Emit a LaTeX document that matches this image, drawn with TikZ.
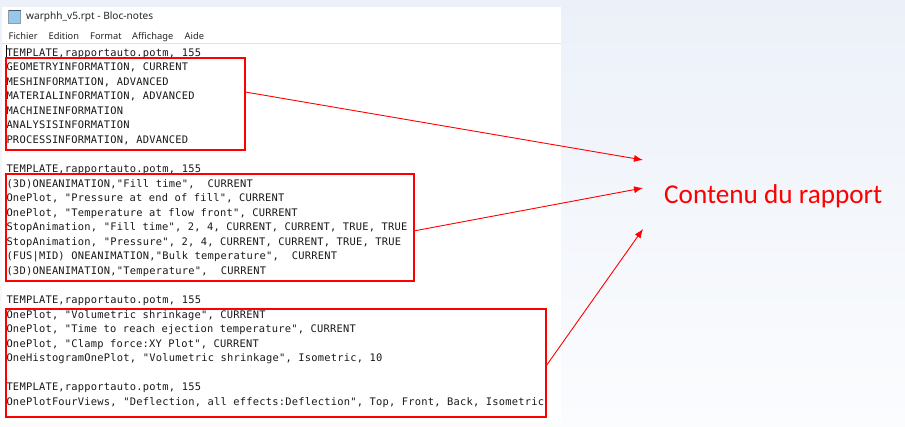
\documentclass[tikz,border=0pt]{standalone}
\usepackage{fontspec}
\setmainfont{Noto Sans}
\setmonofont[LetterSpace=2.3]{DejaVu Sans Mono}
\newfontfamily\labelfont{Carlito}
\usetikzlibrary{arrows.meta}
\definecolor{bgtop}{RGB}{236,241,249}
\definecolor{bgbot}{RGB}{251,252,254}
\definecolor{rulegray}{RGB}{226,226,226}
\definecolor{iconblue}{RGB}{150,200,235}
\definecolor{icondark}{RGB}{70,90,110}
\tikzset{
  codeline/.style={anchor=base west, inner sep=0pt, text=black!90, font=\fontsize{10.4}{14.5}\selectfont\ttfamily},
  menuitem/.style={anchor=base west, inner sep=0pt, font=\fontsize{9.3}{11}\selectfont, text=black!85},
  redbox/.style={draw=red, line width=2pt, anchor=north west, inner sep=0pt, outer sep=0pt},
  pointer/.style={draw=red, line width=0.9pt, -{Latex[length=9pt,width=7pt]}}
}
\begin{document}
\begin{tikzpicture}[x=1pt, y=-1pt]
  \useasboundingbox (0,0) rectangle (905,427);
  \shade[top color=bgtop, bottom color=bgbot] (0,0) rectangle (905,427);
  \fill[white] (2,7) rectangle (561,422);
  \draw[rulegray, line width=0.8pt] (2,43.3) -- (561,43.3);
  \fill[iconblue, draw=icondark!60, line width=0.5pt] (8.5,10.5) rectangle (20.5,23.5);
  \draw[icondark, line width=1.2pt] (8.5,10.5) -- (20.5,10.5);
  \node[menuitem, font=\fontsize{10.1}{12}\selectfont] (title) at (26,19.5) {warphh\_v5.rpt - Bloc-notes};
  \node[menuitem] (fichier) at (8.5,39.3) {Fichier};
  \node[menuitem] (edition) at (48.5,39.3) {Edition};
  \node[menuitem] (format) at (90,39.3) {Format};
  \node[menuitem] (affichage) at (132,39.3) {Affichage};
  \node[menuitem] (aide) at (184.5,39.3) {Aide};
  \draw[black, line width=0.6pt] (5.8,45.5) -- (5.8,57.5);
  \foreach \txt [count=\i] in {
      {TEMPLATE,rapportauto.potm, 155},
      {GEOMETRYINFORMATION, CURRENT},
      {MESHINFORMATION, ADVANCED},
      {MATERIALINFORMATION, ADVANCED},
      {MACHINEINFORMATION},
      {ANALYSISINFORMATION},
      {PROCESSINFORMATION, ADVANCED},
      {},
      {TEMPLATE,rapportauto.potm, 155},
      {(3D)ONEANIMATION,"Fill time",\ \ CURRENT},
      {OnePlot, "Pressure at end of fill", CURRENT},
      {OnePlot, "Temperature at flow front", CURRENT},
      {StopAnimation, "Fill time", 2, 4, CURRENT, CURRENT, TRUE, TRUE},
      {StopAnimation, "Pressure", 2, 4, CURRENT, CURRENT, TRUE, TRUE},
      {(FUS|MID) ONEANIMATION,"Bulk temperature",\ \ CURRENT},
      {(3D)ONEANIMATION,"Temperature",\ \ CURRENT},
      {},
      {TEMPLATE,rapportauto.potm, 155},
      {OnePlot, "Volumetric shrinkage", CURRENT},
      {OnePlot, "Time to reach ejection temperature", CURRENT},
      {OnePlot, "Clamp force:XY Plot", CURRENT},
      {OneHistogramOnePlot, "Volumetric shrinkage", Isometric, 10},
      {},
      {TEMPLATE,rapportauto.potm, 155},
      {OnePlotFourViews, "Deflection, all effects:Deflection", Top, Front, Back, Isometric}}
    \node[codeline] (line\i) at (6.3, {56.3+14.54*(\i-1)}) {\txt};
  \node[redbox, minimum width=239.8pt, minimum height=92pt] (geom) at (5.5,58) {};
  \node[redbox, minimum width=408.2pt, minimum height=107pt] (anim) at (5.5,174) {};
  \node[redbox, minimum width=540.2pt, minimum height=108.2pt] (plots) at (5.5,308.8) {};
  \node[anchor=base west, inner sep=0pt, text=red, font=\fontsize{27.2}{31}\selectfont\labelfont] (contenu) at (664,204) {Contenu du rapport};
  \coordinate (tipa) at (643,160);
  \coordinate (tipb) at (643,188);
  \coordinate (tipc) at (643,229);
  \draw[pointer] ([yshift=12pt]geom.east) -- (tipa);
  \draw[pointer] ([yshift=-3.5pt]anim.east) -- (tipb);
  \draw[pointer] ([yshift=-3.6pt]plots.east) -- (tipc);
\end{tikzpicture}
\end{document}
